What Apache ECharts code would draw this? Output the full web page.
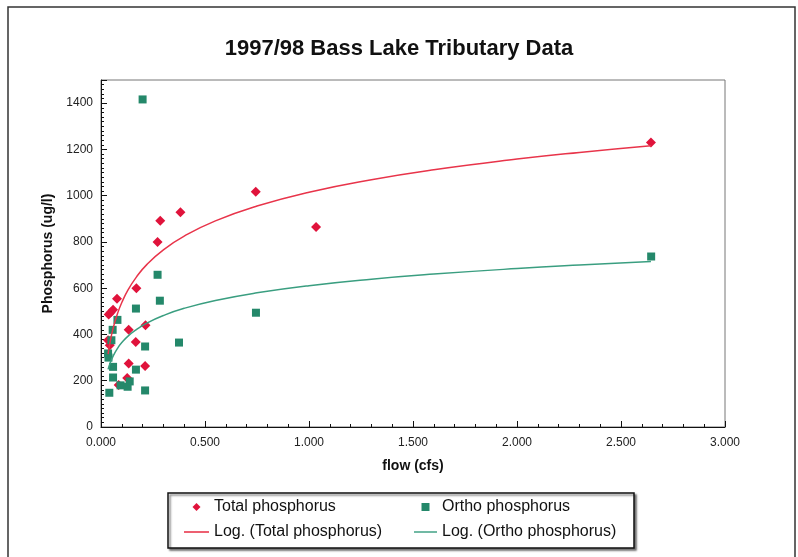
<!DOCTYPE html>
<html>
<head>
<meta charset="utf-8">
<script src="https://cdn.jsdelivr.net/npm/echarts@6/dist/echarts.min.js"></script>
<style>
  html, body { margin: 0; padding: 0; background: #fff; }
  #main { width: 798px; height: 557px; }
</style>
</head>
<body>
<div id="main"></div>
<script>
// flow (cfs) vs phosphorus (ug/l)
const totalP = [
  [0.744, 1017], [0.382, 928], [0.285, 892], [0.272, 800], [0.170, 600],
  [0.077, 554], [0.058, 507], [0.037, 486], [0.046, 495], [0.133, 420],
  [0.214, 440], [0.034, 375], [0.042, 353], [0.167, 367], [0.133, 274],
  [0.212, 264], [0.126, 212], [0.085, 182], [1.034, 865], [2.644, 1230]
];
const orthoP = [
  [0.200, 1416], [0.272, 658], [0.283, 546], [0.168, 512], [0.079, 463],
  [0.056, 420], [0.050, 375], [0.034, 318], [0.036, 300], [0.058, 260],
  [0.058, 214], [0.212, 348], [0.375, 365], [0.745, 494], [0.168, 248],
  [0.094, 180], [0.138, 197], [0.128, 174], [0.212, 158], [0.040, 148],
  [2.645, 737]
];
// trend curves as traced on the picture
const trendX = [0.034, 0.045, 0.06, 0.08, 0.1, 0.13, 0.17, 0.22, 0.3, 0.4, 0.55, 0.75, 1.0, 1.3, 1.6, 2.0, 2.3, 2.644];
const trendTotal = [315, 373, 433, 492, 538, 593, 648, 702, 766, 825, 891, 955, 1015, 1069, 1112, 1158, 1187, 1216];
const trendOrtho = [249, 279, 310, 341, 365, 393, 421, 449, 482, 513, 547, 580, 611, 639, 661, 685, 700, 715];

const names = ['Total phosphorus', 'Ortho phosphorus', 'Log. (Total phosphorus)', 'Log. (Ortho phosphorus)'];
const red = '#e0133b';
const green = '#24886a';
const redLine = '#e8344a';
const greenLine = '#3a9e80';
const font = 'Arial, "Liberation Sans", sans-serif';
const lineIcon = 'path://M0,0 L24,0 L24,1.5 L0,1.5 Z';

const chart = echarts.init(document.getElementById('main'));
chart.setOption({
  animation: false,
  backgroundColor: '#fff',
  title: {
    text: '1997/98 Bass Lake Tributary Data',
    left: 'center',
    top: 33,
    textStyle: { fontFamily: font, fontSize: 22, fontWeight: 'bold', color: '#111' }
  },
  graphic: [
    { type: 'rect', shape: { x: 8, y: 7, width: 787, height: 560 }, style: { fill: 'none', stroke: '#333', lineWidth: 1.5 } },
    { type: 'rect', z: -1, shape: { x: 168, y: 493, width: 466, height: 55 },
      style: { fill: '#fff', stroke: '#111', lineWidth: 1.5, shadowColor: 'rgba(0,0,0,0.5)', shadowOffsetX: 2, shadowOffsetY: 2, shadowBlur: 2 } }
  ],
  legend: [
    {
      orient: 'vertical', left: 184, top: 499, padding: 0, itemGap: 9, itemWidth: 25, itemHeight: 8,
      textStyle: { fontFamily: font, fontSize: 16, color: '#111' },
      data: [
        { name: names[0], icon: 'path://M5,0 L10,5 L5,10 L0,5 Z' },
        { name: names[2], icon: lineIcon }
      ]
    },
    {
      orient: 'vertical', left: 414, top: 499, padding: 0, itemGap: 9, itemWidth: 23, itemHeight: 8,
      textStyle: { fontFamily: font, fontSize: 16, color: '#111' },
      data: [
        { name: names[1], icon: 'path://M0,0 L10,0 L10,10 L0,10 Z' },
        { name: names[3], icon: lineIcon }
      ]
    }
  ],
  grid: { left: 101, right: 73, top: 80, bottom: 130, show: true, borderColor: '#777', borderWidth: 1 },
  xAxis: {
    type: 'value', min: 0, max: 3, interval: 0.5,
    name: 'flow (cfs)', nameLocation: 'middle', nameGap: 32,
    nameTextStyle: { fontFamily: font, fontSize: 14, fontWeight: 'bold', color: '#111' },
    axisLine: { lineStyle: { color: '#111' } },
    axisTick: { inside: true, length: 6, lineStyle: { color: '#111' } },
    minorTick: { show: true, splitNumber: 5, length: 3, lineStyle: { color: '#111' } },
    splitLine: { show: false },
    axisLabel: { fontFamily: font, fontSize: 12, color: '#222', margin: 10, formatter: v => v.toFixed(3) }
  },
  yAxis: {
    type: 'value', min: 0, max: 1500, interval: 200,
    name: 'Phosphorus (ug/l)', nameLocation: 'middle', nameGap: 46,
    nameTextStyle: { fontFamily: font, fontSize: 14, fontWeight: 'bold', color: '#111' },
    axisLine: { show: true, lineStyle: { color: '#111' } },
    axisTick: { inside: true, length: 6, lineStyle: { color: '#111' } },
    minorTick: { show: true, splitNumber: 10, length: 3, lineStyle: { color: '#111' } },
    splitLine: { show: false },
    axisLabel: { fontFamily: font, fontSize: 12, color: '#222', margin: 8, showMaxLabel: false, formatter: v => String(v) }
  },
  series: [
    { name: names[0], type: 'scatter', symbol: 'diamond', symbolSize: 10, itemStyle: { color: red, opacity: 1 }, data: totalP },
    { name: names[1], type: 'scatter', symbol: 'rect', symbolSize: 8, itemStyle: { color: green, opacity: 1 }, data: orthoP },
    { name: names[2], type: 'line', symbol: 'none', smooth: true, lineStyle: { color: redLine, width: 1.5 }, itemStyle: { color: redLine },
      data: trendX.map((x, i) => [x, trendTotal[i]]) },
    { name: names[3], type: 'line', symbol: 'none', smooth: true, lineStyle: { color: greenLine, width: 1.5 }, itemStyle: { color: greenLine },
      data: trendX.map((x, i) => [x, trendOrtho[i]]) }
  ]
});
</script>
</body>
</html>
